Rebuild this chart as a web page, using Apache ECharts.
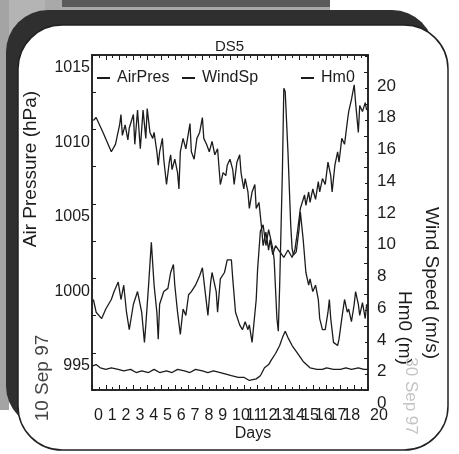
<!DOCTYPE html>
<html>
<head>
<meta charset="utf-8">
<script src="https://cdn.jsdelivr.net/npm/echarts@6/dist/echarts.min.js"></script>
<style>html,body{margin:0;padding:0;background:#fff}#c{width:459px;height:454px}</style>
</head>
<body>
<div id="c"></div>
<script>
// ---- data ----
const airDays = [0.1,0.3,0.8,1.4,1.7,2.0,2.1,2.2,2.4,2.6,2.7,3.0,3.1,3.3,3.5,3.7,3.9,4.0,4.2,4.4,4.5,4.7,4.8,4.9,5.1,5.2,5.4,5.6,5.7,5.8,6.0,6.2,6.3,6.4,6.6,6.8,7.1,7.2,7.4,7.6,7.8,8.0,8.1,8.3,8.5,8.7,8.9,9.1,9.3,9.5,9.7,9.8,10.0,10.2,10.3,10.5,10.7,10.8,11.0,11.1,11.3,11.4,11.6,11.8,11.9,12.1,12.3,12.4,12.6,12.8,12.9,13.1,13.3,13.6,13.9,14.2,14.5,14.7,14.9,15.1,15.4,15.5,15.7,15.8,16.0,16.2,16.4,16.5,16.7,16.9,17.1,17.3,17.4,17.6,17.8,17.9,18.1,18.3,18.5,18.6,18.8,19.0,19.1,19.3,19.4,19.6,19.8,19.9];
const airPres = [1010.6,1010.8,1009.8,1008.5,1009.0,1010.3,1011.0,1009.6,1010.3,1009.3,1010.1,1011.0,1009.0,1011.3,1008.7,1011.3,1009.4,1011.4,1009.8,1009.4,1009.8,1008.5,1007.6,1008.5,1009.4,1008.0,1006.3,1007.8,1008.3,1007.3,1008.0,1007.1,1006.0,1008.5,1009.4,1008.7,1010.4,1008.5,1008.0,1009.4,1009.8,1010.8,1009.4,1009.0,1008.5,1009.2,1008.3,1008.7,1006.3,1007.1,1006.9,1007.6,1008.0,1007.3,1006.3,1007.8,1008.3,1007.1,1006.0,1006.7,1005.8,1004.7,1005.8,1006.3,1004.7,1005.1,1003.3,1002.2,1003.1,1001.9,1002.6,1001.6,1002.2,1001.8,1001.4,1001.9,1001.4,1001.9,1003.2,1004.7,1005.6,1004.9,1005.8,1005.1,1006.0,1005.3,1006.5,1005.8,1006.7,1006.3,1007.8,1006.9,1005.8,1007.6,1008.5,1007.8,1009.4,1009.0,1010.5,1011.2,1012.0,1013.0,1011.8,1009.8,1011.6,1011.2,1011.8,1011.3];

const windDays = [0.1,0.3,0.7,1.0,1.4,1.6,1.9,2.1,2.3,2.5,2.7,3.0,3.3,3.6,3.8,3.9,4.1,4.3,4.5,4.7,4.8,4.9,5.2,5.5,5.7,5.9,6.0,6.2,6.4,6.6,6.8,7.0,7.2,7.5,7.8,8.0,8.2,8.4,8.6,8.7,9.0,9.1,9.3,9.6,9.8,10.1,10.2,10.4,10.7,10.9,11.1,11.3,11.4,11.6,11.9,12.0,12.2,12.4,12.6,12.8,13.1,13.2,13.4,13.5,13.6,13.8,13.9,14.0,14.2,14.4,14.5,14.6,14.8,15.0,15.1,15.3,15.5,15.7,15.8,16.0,16.2,16.4,16.5,16.7,16.9,17.1,17.2,17.3,17.5,17.8,17.9,18.1,18.3,18.5,18.6,18.8,19.0,19.1,19.3,19.4,19.6,19.8,19.9];
const windSpeed = [5.7,4.9,4.5,5.1,5.7,6.2,6.8,5.7,6.6,4.9,3.8,5.4,6.2,4.9,3.0,4.1,6.6,9.3,6.6,4.9,3.2,5.4,6.2,6.4,7.4,7.9,6.6,4.9,3.5,5.1,4.7,6.0,6.2,6.6,7.2,7.7,6.2,4.7,6.8,7.4,6.2,4.9,7.0,7.4,8.2,8.2,7.0,4.9,4.1,3.8,4.3,3.8,4.1,3.0,5.7,7.6,10.0,10.4,9.1,10.1,8.9,8.2,4.5,3.7,6.6,13.9,19.0,18.8,15.0,10.4,8.9,8.5,8.7,10.1,11.2,9.5,7.4,6.6,7.0,6.2,6.6,5.7,4.5,3.8,3.8,4.9,5.7,4.5,3.0,2.8,3.2,4.5,5.7,4.9,5.1,4.3,5.4,6.2,5.4,4.7,5.5,4.5,5.4];

const hm0Days = [0.0,0.3,0.6,1.0,1.4,1.9,2.3,2.8,3.2,3.6,4.1,4.5,4.9,5.4,5.8,6.2,6.7,7.1,7.5,8.0,8.4,8.8,9.3,9.7,10.1,10.6,11.0,11.4,11.9,12.2,12.5,12.8,13.0,13.3,13.6,13.8,14.0,14.2,14.5,14.9,15.3,15.8,16.3,16.7,17.0,17.5,18.0,18.4,18.8,19.3,19.7,20.0];
const hm0 = [1.5,1.6,1.4,1.3,1.4,1.3,1.2,1.3,1.1,1.2,1.1,1.3,1.1,1.2,1.1,1.3,1.2,1.1,1.3,1.2,1.1,1.2,1.1,1.0,0.9,0.8,0.8,0.6,0.7,0.9,1.4,1.6,1.9,2.3,2.8,3.3,3.7,3.3,2.8,2.3,1.8,1.4,1.3,1.3,1.4,1.3,1.3,1.4,1.3,1.4,1.3,1.3];

const pressureLabels = [995, 1000, 1005, 1010, 1015];
const rightLabels = [0, 2, 4, 6, 8, 10, 12, 14, 16, 18, 20];

const zip = (xs, ys) => xs.map((x, i) => [x, ys[i]]);
const near = (v, list) => list.some(t => Math.abs(t - v) < 1e-6);

const INK = '#1c1c1c';
const FONT = '"Liberation Sans", Arial, sans-serif';

const chart = echarts.init(document.getElementById('c'), null, {renderer: 'canvas'});

const lineStyle = {color: INK, width: 1.3};

chart.setOption({
  backgroundColor: '#ffffff',
  animation: false,
  title: {
    text: 'DS5', left: 'center', top: 34,
    textStyle: {fontFamily: FONT, fontSize: 15, fontWeight: 'normal', color: INK}
  },
  legend: [
    {data: ['AirPres'], left: 97, top: 70},
    {data: ['WindSp'], left: 182, top: 70},
    {data: ['Hm0'], left: 301, top: 70}
  ].map(l => Object.assign(l, {
    icon: 'rect', itemWidth: 13, itemHeight: 2, padding: 0,
    textStyle: {fontFamily: FONT, fontSize: 16, color: INK, padding: [0, 0, 0, 2]},
    itemStyle: {color: INK}
  })),
  grid: {
    left: 92, right: 91, top: 55, bottom: 64,
    show: true, borderColor: INK, borderWidth: 1.5,
    containLabel: false, outerBoundsMode: 'none'
  },
  xAxis: [
    {
      type: 'value', min: 0, max: 20, interval: 1, position: 'bottom',
      axisLine: {show: true, onZero: false, lineStyle: {color: INK, width: 1.5}},
      axisTick: {show: true, inside: true, length: 5, lineStyle: {color: INK}},
      minorTick: {show: true, splitNumber: 2, length: 3, lineStyle: {color: INK}},
      splitLine: {show: false},
      axisLabel: {
        show: true, margin: 18, align: 'left', padding: [0, 0, 0, 2],
        fontFamily: FONT, fontSize: 16, color: INK,
        showMinLabel: true, showMaxLabel: true
      }
    },
    {
      type: 'value', min: 0, max: 20, interval: 1, position: 'top',
      axisLine: {show: true, onZero: false, lineStyle: {color: INK, width: 1.5}},
      axisTick: {show: true, inside: true, length: 5, lineStyle: {color: INK}},
      minorTick: {show: true, splitNumber: 2, length: 3, lineStyle: {color: INK}},
      splitLine: {show: false},
      axisLabel: {show: false}
    }
  ],
  yAxis: [
    {
      type: 'value', min: 992.5, max: 1015, interval: 2.5, position: 'left',
      axisLine: {show: true, onZero: false, lineStyle: {color: INK, width: 1.5}},
      axisTick: {show: true, inside: true, length: 4, lineStyle: {color: INK}},
      splitLine: {show: false},
      axisLabel: {
        margin: 2, verticalAlign: 'top', padding: [5, 0, 0, 0],
        fontFamily: FONT, fontSize: 16, color: INK,
        showMinLabel: true, showMaxLabel: true,
        formatter: v => near(v, pressureLabels) ? String(Math.round(v)) : ''
      }
    },
    {
      type: 'value', min: 0, max: 21.1, interval: 2, position: 'right',
      axisLine: {show: true, onZero: false, lineStyle: {color: INK, width: 1.5}},
      axisTick: {show: true, inside: true, length: 4, lineStyle: {color: INK}},
      minorTick: {show: true, splitNumber: 2, length: 3, lineStyle: {color: INK}},
      splitLine: {show: false},
      axisLabel: {
        margin: 9, verticalAlign: 'top', padding: [5, 0, 0, 0],
        fontFamily: FONT, fontSize: 17, color: INK,
        showMinLabel: true, showMaxLabel: true,
        formatter: v => near(v, rightLabels) ? String(Math.round(v)) : ''
      }
    }
  ],
  series: [
    {name: 'AirPres', type: 'line', xAxisIndex: 0, yAxisIndex: 0, data: zip(airDays, airPres),
     showSymbol: false, symbol: 'none', lineStyle: lineStyle, itemStyle: {color: INK}, z: 3},
    {name: 'WindSp', type: 'line', xAxisIndex: 0, yAxisIndex: 1, data: zip(windDays, windSpeed),
     showSymbol: false, symbol: 'none', lineStyle: lineStyle, itemStyle: {color: INK}, z: 3},
    {name: 'Hm0', type: 'line', xAxisIndex: 0, yAxisIndex: 1, data: zip(hm0Days, hm0),
     showSymbol: false, symbol: 'none', lineStyle: lineStyle, itemStyle: {color: INK}, z: 3}
  ],
  graphic: {
    elements: [
      // scanned background / frame
      {type: 'rect', z: -30, shape: {x: 0, y: 0, width: 330, height: 11}, style: {fill: '#a9a9a9'}},
      {type: 'rect', z: -29, shape: {x: 62, y: 0, width: 268, height: 7}, style: {fill: '#5a5a5a'}},
      {type: 'rect', z: -30, shape: {x: 0, y: 0, width: 45, height: 55}, style: {fill: '#b4b4b4'}},
      {type: 'rect', z: -30, shape: {x: 0, y: 0, width: 9, height: 410}, style: {fill: '#a4a4a4'}},
      {type: 'rect', z: -25, shape: {x: 6, y: 10, width: 428, height: 418, r: 42}, style: {fill: '#2f2f2f'}},
      {type: 'rect', z: -20, shape: {x: 18, y: 25, width: 430, height: 425, r: 44},
       style: {fill: '#ffffff', stroke: '#222', lineWidth: 1.5}},
      // axis names and annotations
      {type: 'text', z: 100, x: 31, y: 169, rotation: Math.PI / 2,
       style: {text: 'Air Pressure (hPa)', font: '19px ' + FONT, fill: INK, align: 'center', verticalAlign: 'middle'}},
      {type: 'text', z: 100, x: 431, y: 283, rotation: -Math.PI / 2,
       style: {text: 'Wind Speed (m/s)', font: '19px ' + FONT, fill: INK, align: 'center', verticalAlign: 'middle'}},
      {type: 'text', z: 100, x: 404, y: 328, rotation: -Math.PI / 2,
       style: {text: 'Hm0 (m)', font: '19px ' + FONT, fill: INK, align: 'center', verticalAlign: 'middle'}},
      {type: 'text', z: 100, x: 43, y: 378, rotation: Math.PI / 2,
       style: {text: '10 Sep 97', font: '19px ' + FONT, fill: '#444', align: 'center', verticalAlign: 'middle'}},
      {type: 'text', z: 100, x: 411, y: 396, rotation: -Math.PI / 2,
       style: {text: '30 Sep 97', font: '17px ' + FONT, fill: '#c4c4c4', align: 'center', verticalAlign: 'middle'}},
      {type: 'text', z: 100, x: 253, y: 434,
       style: {text: 'Days', font: '16px ' + FONT, fill: INK, align: 'center', verticalAlign: 'middle'}}
    ]
  }
});
</script>
</body>
</html>
